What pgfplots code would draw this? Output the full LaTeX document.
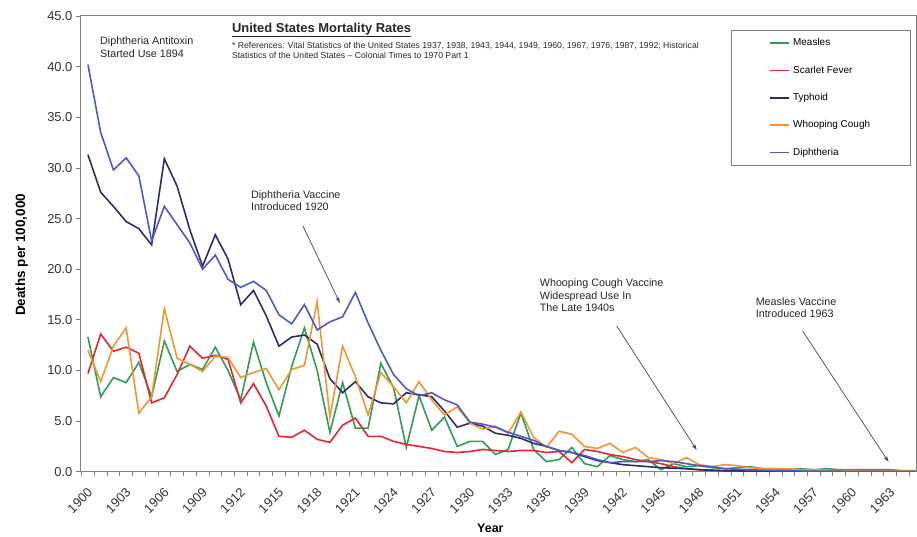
\documentclass[border=0pt]{standalone}
\usepackage{fontspec}
\setmainfont{Liberation Sans}
\usepackage{pgfplots}
\usepackage{pgfplotstable}
\pgfplotsset{compat=1.18}
\usetikzlibrary{arrows.meta}
\definecolor{measles}{RGB}{50,155,85}
\definecolor{scarlet}{RGB}{225,40,50}
\definecolor{typhoid}{RGB}{45,45,105}
\definecolor{whooping}{RGB}{240,150,50}
\definecolor{diphtheria}{RGB}{80,90,190}
\definecolor{axgray}{RGB}{128,128,128}
\definecolor{arrowgray}{RGB}{70,70,70}
\pgfplotstableread{
year measles scarlet typhoid whooping diphtheria
1900 13.3 9.7 31.3 12.0 40.2
1901 7.4 13.6 27.6 8.9 33.5
1902 9.3 11.9 26.2 12.4 29.8
1903 8.8 12.3 24.7 14.2 31.0
1904 10.8 11.7 24.0 5.8 29.2
1905 7.4 6.8 22.4 7.4 22.8
1906 12.9 7.3 30.9 16.1 26.2
1907 9.9 9.6 28.2 11.2 24.4
1908 10.6 12.4 23.9 10.6 22.6
1909 10.1 11.2 20.3 9.9 20.0
1910 12.3 11.5 23.4 11.4 21.4
1911 10.0 11.1 21.0 11.3 19.0
1912 7.1 6.8 16.5 9.3 18.2
1913 12.8 8.7 17.9 9.8 18.8
1914 8.8 6.5 15.4 10.2 17.9
1915 5.5 3.5 12.4 8.1 15.5
1916 10.4 3.4 13.3 10.1 14.6
1917 14.2 4.1 13.5 10.5 16.5
1918 10.0 3.2 12.6 16.8 14.0
1919 3.9 2.9 9.2 5.4 14.8
1920 8.8 4.6 7.8 12.4 15.3
1921 4.3 5.3 8.9 9.4 17.7
1922 4.3 3.5 7.4 5.6 14.7
1923 10.7 3.5 6.8 9.8 12.0
1924 8.3 3.0 6.7 8.4 9.6
1925 2.4 2.7 7.8 6.8 8.2
1926 7.5 2.5 7.6 8.9 7.5
1927 4.1 2.3 7.4 7.1 7.8
1928 5.4 2.0 6.0 5.6 7.1
1929 2.5 1.9 4.4 6.4 6.6
1930 3.0 2.0 4.8 4.8 4.9
1931 3.0 2.2 4.5 4.2 4.7
1932 1.7 2.1 3.8 4.5 4.4
1933 2.2 2.0 3.6 3.8 3.9
1934 5.8 2.1 3.3 5.9 3.5
1935 2.2 2.1 2.8 3.4 3.1
1936 1.0 1.9 2.5 2.4 2.5
1937 1.2 2.0 2.1 4.0 2.1
1938 2.4 0.9 1.9 3.7 1.9
1939 0.8 2.2 1.5 2.5 1.6
1940 0.5 2.0 1.1 2.3 1.2
1941 1.6 1.7 0.9 2.8 0.9
1942 1.2 1.5 0.7 1.9 1.0
1943 1.0 1.2 0.6 2.4 1.0
1944 1.2 1.0 0.5 1.4 1.0
1945 0.2 0.8 0.4 1.2 1.1
1946 0.8 0.5 0.35 0.8 1.0
1947 0.5 0.3 0.3 1.4 0.8
1948 0.6 0.2 0.2 0.7 0.6
1949 0.4 0.15 0.15 0.5 0.5
1950 0.3 0.1 0.1 0.7 0.3
1951 0.4 0.08 0.08 0.6 0.25
1952 0.5 0.06 0.06 0.4 0.2
1953 0.3 0.05 0.05 0.3 0.15
1954 0.3 0.05 0.05 0.3 0.1
1955 0.2 0.04 0.04 0.3 0.1
1956 0.3 0.03 0.03 0.2 0.08
1957 0.2 0.03 0.03 0.2 0.05
1958 0.3 0.03 0.03 0.15 0.05
1959 0.2 0.02 0.02 0.1 0.05
1960 0.2 0.02 0.02 0.1 0.03
1961 0.2 0.02 0.02 0.05 0.03
1962 0.2 0.02 0.02 0.05 0.02
1963 0.2 0.01 0.01 0.05 0.02
1964 0.1 0.01 0.01 0.05 0.01
1965 0.1 0.01 0.01 0.05 0.01
}\data
\begin{document}
\begin{tikzpicture}
\begin{axis}[
  scale only axis,
  width=836bp, height=456bp,
  xmin=1899.45, xmax=1965.07,
  ymin=0, ymax=45,
  axis line style={axgray, line width=1bp},
  tick style={axgray, line width=0.8bp},
  tick align=outside,
  xtick={1900,1903,...,1963},
  xticklabels={1900,1903,1906,1909,1912,1915,1918,1921,1924,1927,1930,1933,1936,1939,1942,1945,1948,1951,1954,1957,1960,1963},
  major x tick style={draw=none},
  minor xtick={1899.5,1900.5,...,1965},
  minor tick length=4bp,
  ytick={0,5,...,45},
  yticklabels={0.0,5.0,10.0,15.0,20.0,25.0,30.0,35.0,40.0,45.0},
  major tick length=5bp,
  xtick pos=bottom, ytick pos=left,
  yticklabel style={font=\fontsize{13}{15}\selectfont, text=black!80},
  xticklabel style={font=\fontsize{13}{15}\selectfont, text=black!80, inner sep=1bp, xshift=-8bp, yshift=-24bp, rotate=45, anchor=center},
  xlabel={Year},
  ylabel={Deaths per 100,000},
  x label style={at={(axis description cs:0.49,0)}, anchor=center, yshift=-57bp, font=\bfseries\fontsize{12.5}{14}\selectfont},
  y label style={at={(axis description cs:-0.071,0.476)}, anchor=center, font=\bfseries\fontsize{13.5}{15}\selectfont},
  legend style={at={(rel axis cs:0.7775,0.9693)}, anchor=north west, draw=axgray, line width=1bp,
    inner xsep=38bp, inner ysep=6bp, row sep=13.8bp,
    font=\fontsize{10}{12}\selectfont,
    nodes={inner sep=2bp, text height=7.5bp, text depth=2bp}},
  legend cell align=left,
  legend image code/.code={\draw[#1, line width=1.6bp] (0bp,0bp) -- (19bp,0bp); \path (20.5bp,0bp);},
  every axis plot/.append style={line width=1.6bp},
  clip=true,
]
\addplot[measles] table[x=year,y=measles]{\data};
\addlegendentry{Measles}
\addplot[scarlet] table[x=year,y=scarlet]{\data};
\addlegendentry{Scarlet Fever}
\addplot[typhoid] table[x=year,y=typhoid]{\data};
\addlegendentry{Typhoid}
\addplot[whooping] table[x=year,y=whooping]{\data};
\addlegendentry{Whooping Cough}
\addplot[diphtheria] table[x=year,y=diphtheria]{\data};
\addlegendentry{Diphtheria}

\coordinate (O) at (rel axis cs:0,0);
\node[anchor=north west, inner sep=0, align=left, font=\fontsize{10.8}{12.5}\selectfont, text=black!85]
  at (rel axis cs:0.0227,0.954) {Diphtheria Antitoxin\\Started Use 1894};
\node[anchor=west, inner sep=0, font=\bfseries\fontsize{13}{15}\selectfont, text=black!85]
  at (rel axis cs:0.1806,0.969) {\underline{United States Mortality Rates}};
\node[anchor=north west, inner sep=0, align=left, font=\fontsize{8.7}{10.5}\selectfont, text=black!85]
  at (rel axis cs:0.1806,0.943) {* References: Vital Statistics of the United States 1937, 1938, 1943, 1944, 1949, 1960, 1967, 1976, 1987, 1992; Historical\\Statistics of the United States -- Colonial Times to 1970 Part 1};
\node[anchor=north west, inner sep=0, align=left, font=\fontsize{10.8}{12.8}\selectfont, text=black!85]
  at (rel axis cs:0.2033,0.618) {Diphtheria Vaccine\\Introduced 1920};
\node[anchor=north west, inner sep=0, align=left, font=\fontsize{10.8}{12.3}\selectfont, text=black!85]
  at (rel axis cs:0.549,0.4232) {Whooping Cough Vaccine\\Widespread Use In\\The Late 1940s};
\node[anchor=north west, inner sep=0, align=left, font=\fontsize{10.8}{12.3}\selectfont, text=black!85]
  at (rel axis cs:0.8074,0.3826) {Measles Vaccine\\Introduced 1963};
\draw[arrowgray, line width=0.7bp, -{Stealth[length=6bp,width=4bp]}] (rel axis cs:0.2656,0.5395) -- (rel axis cs:0.3098,0.3706);
\draw[arrowgray, line width=0.7bp, -{Stealth[length=6bp,width=4bp]}] (rel axis cs:0.6411,0.3202) -- (rel axis cs:0.7368,0.0482);
\draw[arrowgray, line width=0.7bp, -{Stealth[length=6bp,width=4bp]}] (rel axis cs:0.8636,0.3092) -- (rel axis cs:0.9665,0.0219);
\end{axis}
\path[use as bounding box] (O) ++(-81bp,-62bp) rectangle ++(917bp,534bp);
\end{tikzpicture}
\end{document}
